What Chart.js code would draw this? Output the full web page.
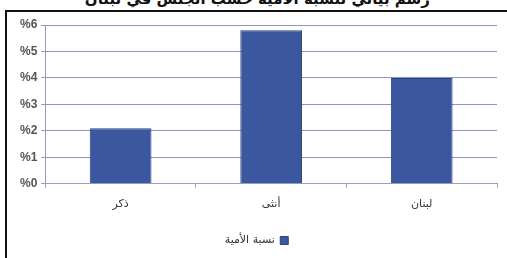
<!DOCTYPE html>
<html>
<head>
<meta charset="utf-8">
<script src="https://cdn.jsdelivr.net/npm/chart.js@4"></script>
<style>
  html, body { margin: 0; padding: 0; background: #fff; }
  #wrap { position: relative; width: 507px; height: 258px; overflow: hidden; }
  #frame { position: absolute; left: 5px; top: 10px; width: 520px; height: 260px;
           border-left: 2px solid #111; border-top: 2px solid #111; }
  #title { position: absolute; top: -10px; right: 77px; font: bold 15px "DejaVu Sans", sans-serif;
           color: #111; direction: rtl; white-space: nowrap; }
  canvas { position: absolute; left: 0; top: 0; }
</style>
</head>
<body>
<div id="wrap">
  <div id="title">رسم بياني لنسبة الأمية حسب الجنس في لبنان</div>
  <div id="frame"></div>
  <canvas id="chart" width="507" height="258"></canvas>
</div>
<script>
const categories = ['ذكر', 'أنثى', 'لبنان'];
const illiteracyRate = [2.1, 5.8, 4.0];
const seriesLabel = 'نسبة الأمية';
const yTicks = [0, 1, 2, 3, 4, 5, 6];

const ctx = document.getElementById('chart').getContext('2d');

new Chart(ctx, {
  type: 'bar',
  data: {
    labels: categories,
    datasets: [{
      label: seriesLabel,
      data: illiteracyRate,
      backgroundColor: '#3b57a0',
      borderColor: '#2a4282',
      borderWidth: 1,
      categoryPercentage: 1,
      barPercentage: 0.41
    }]
  },
  options: {
    responsive: false,
    animation: false,
    layout: { padding: { left: 16, right: 10, top: 25, bottom: 2 } },
    plugins: {
      legend: {
        position: 'bottom',
        rtl: true,
        labels: { boxWidth: 8, boxHeight: 8, color: '#333', padding: 14,
                  font: { size: 11, family: 'DejaVu Sans' } }
      },
      tooltip: { enabled: false }
    },
    scales: {
      y: {
        min: yTicks[0],
        max: yTicks[yTicks.length - 1],
        ticks: {
          stepSize: 1,
          color: '#555',
          padding: 4,
          font: { size: 12, weight: 'bold', family: 'Liberation Sans' },
          callback: v => '%' + v
        },
        grid: { color: '#8f95bd', lineWidth: 1, tickLength: 4 },
        border: { color: '#a094c0' }
      },
      x: {
        ticks: { color: '#333', padding: 10, font: { size: 11, family: 'DejaVu Sans' } },
        grid: { drawOnChartArea: false, offset: true, tickLength: 4, color: '#9aa0c0' },
        border: { color: '#9aa0c0' }
      }
    }
  }
});
</script>
</body>
</html>
